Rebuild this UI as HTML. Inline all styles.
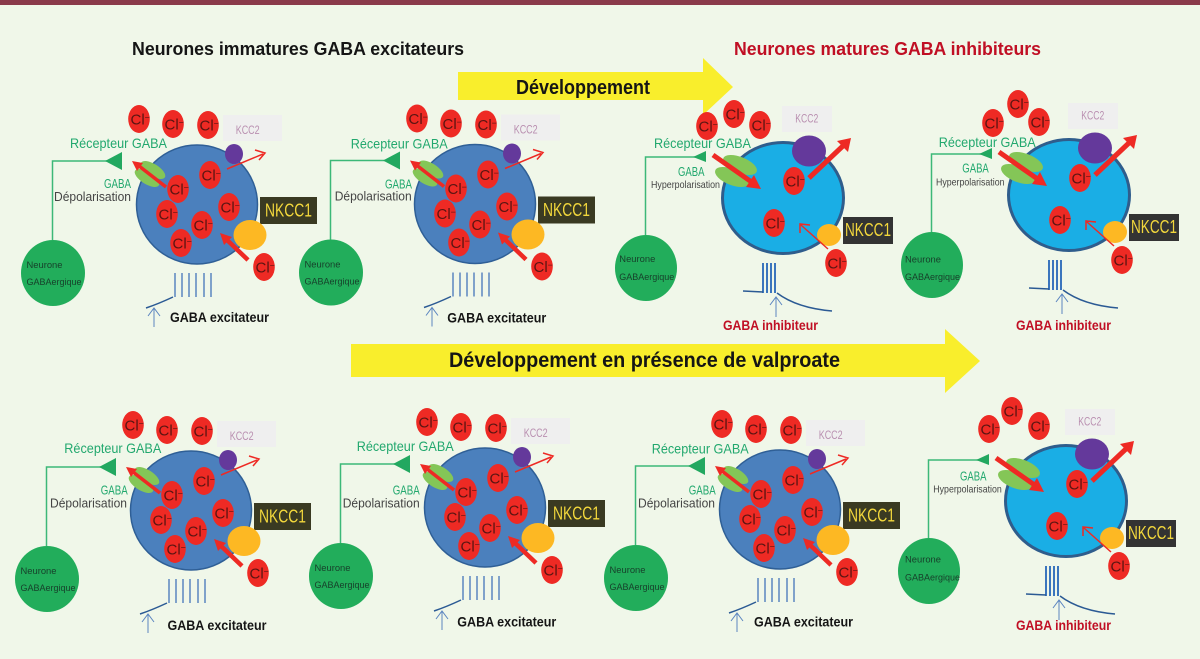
<!DOCTYPE html>
<html><head><meta charset="utf-8"><style>
html,body{margin:0;padding:0;background:#f0f7e9}
svg{display:block}
text{font-family:"Liberation Sans",sans-serif}
.cl{font-size:15px;fill:#5a1512}
.m{font-size:9px;fill:#5a1512}
.r{font-size:14px;fill:#22a86e}
.g{font-size:12.500px;fill:#22a86e}
.d{font-size:12.500px;fill:#444}
.h{font-size:10.500px;fill:#444}
.n{font-size:9.500px;fill:#173f2a}
.k{font-size:12px;fill:#b98fb0}
.y{font-size:18px;fill:#f2d73c}
.b{font-size:14px;font-weight:bold;fill:#151515}
.i{font-size:14px;font-weight:bold;fill:#c00f24}
</style></head><body>
<svg xmlns="http://www.w3.org/2000/svg" width="1200" height="659" viewBox="0 0 1200 659">
<defs>
<g id="c"><ellipse cx="0" cy="0" rx="10.800" ry="14" fill="#ee2a24"/><text class="cl" x="-8.500" y="5.500">Cl<tspan class="m" dy="-4">−</tspan></text></g>
<g id="E">
<ellipse cx="197" cy="204.500" rx="60.500" ry="59.500" fill="#4b80bd" stroke="#2f5f96" stroke-width="1.500"/>
<rect x="223" y="115" width="59" height="26" fill="#efefef"/>
<text class="k" x="235.700" y="134" textLength="24" lengthAdjust="spacingAndGlyphs">KCC2</text>
<use href="#c" x="139" y="119"/><use href="#c" x="173" y="124"/><use href="#c" x="208" y="125"/>
<ellipse cx="234" cy="154" rx="9" ry="10" fill="#64399b"/>
<path d="M227 169L263 154M255 150L265 153L259 160" fill="none" stroke="#ee2a24" stroke-width="1.500"/>
<path d="M122 161H52.500V240" fill="none" stroke="#3cb878" stroke-width="1.500"/>
<polygon points="105,161 122,152 122,170" fill="#22a860"/>
<ellipse cx="53" cy="273" rx="32" ry="33" fill="#22ad5b"/>
<ellipse cx="153" cy="170" rx="14" ry="6" fill="#84c657" transform="rotate(32 153 170)"/>
<ellipse cx="147" cy="178" rx="14" ry="6" fill="#84c657" transform="rotate(32 147 178)"/>
<path d="M166 187L139 166" stroke="#ee2a24" stroke-width="3.500"/>
<polygon points="132,161 143,163 137,171" fill="#ee2a24"/>
<use href="#c" x="178" y="189"/><use href="#c" x="210" y="175"/><use href="#c" x="167" y="214"/><use href="#c" x="202" y="225"/><use href="#c" x="229" y="207"/><use href="#c" x="181" y="243"/><use href="#c" x="264" y="267"/>
<rect x="260" y="197" width="57" height="27" fill="#3a3a22"/>
<text class="y" x="265" y="216.500" textLength="47" lengthAdjust="spacingAndGlyphs">NKCC1</text>
<ellipse cx="250" cy="235" rx="16.500" ry="15" fill="#fdb823"/>
<path d="M248 260L226 239" stroke="#ee2a24" stroke-width="4.500"/>
<polygon points="220,233 232,237 224,245" fill="#ee2a24"/>
<path d="M175 273V297M182 273V297M189 273V297M196 273V297M204 273V297M211 273V297" stroke="#5b85c0" stroke-width="1.500"/>
<path d="M146 308Q158 304 173 297" fill="none" stroke="#2b5a94" stroke-width="1.500"/>
<path d="M154 327V308M148 316L154 308L160 316" fill="none" stroke="#5b85c0" stroke-width="1"/>
</g>
<g id="M">
<ellipse cx="783" cy="198" rx="60.500" ry="55.500" fill="#1aaee5" stroke="#2f5d8c" stroke-width="3"/>
<rect x="782" y="106" width="50" height="26" fill="#efefef"/>
<text class="k" x="795.300" y="122.500" textLength="23" lengthAdjust="spacingAndGlyphs">KCC2</text>
<ellipse cx="809" cy="151" rx="17" ry="15.500" fill="#64399b"/>
<path d="M809 178L845 144" stroke="#ee2a24" stroke-width="5"/>
<polygon points="851,138 848,152 837,141" fill="#ee2a24"/>
<path d="M706 157H645.500V235" fill="none" stroke="#3cb878" stroke-width="1.500"/>
<polygon points="693,157 706,151 706,162" fill="#22a860"/>
<ellipse cx="646" cy="268" rx="31" ry="33" fill="#22ad5b"/>
<ellipse cx="740" cy="165" rx="18" ry="8" fill="#84c657" transform="rotate(22 740 165)"/>
<ellipse cx="732" cy="177" rx="18" ry="8" fill="#84c657" transform="rotate(22 732 177)"/>
<path d="M713 155L753 183" stroke="#ee2a24" stroke-width="5"/>
<polygon points="761,189 746,187 754,175" fill="#ee2a24"/>
<use href="#c" x="794" y="181"/><use href="#c" x="774" y="223"/><use href="#c" x="836" y="263"/>
<ellipse cx="829" cy="235" rx="12" ry="11" fill="#fdb823"/>
<path d="M828 249L801 225M800 233L800 224L810 225" fill="none" stroke="#ee2a24" stroke-width="1.500"/>
<rect x="843" y="217" width="50" height="27" fill="#333"/>
<text class="y" x="845" y="236" textLength="46" lengthAdjust="spacingAndGlyphs">NKCC1</text>
<path d="M763 263V293M767 263V293M771 263V293M775 263V293" stroke="#3b75bd" stroke-width="2"/>
<path d="M743 291L763 292M777 293Q797 308 832 311" fill="none" stroke="#2b5a94" stroke-width="1.500"/>
<path d="M776 317V297M770 305L776 297L782 305" fill="none" stroke="#5b85c0" stroke-width="1"/>
</g>
</defs>
<rect width="1200" height="659" fill="#f0f7e9"/>
<rect width="1200" height="5" fill="#8a3a4a"/>
<text x="132" y="55" font-size="18" font-weight="bold" fill="#151515" textLength="332" lengthAdjust="spacingAndGlyphs">Neurones immatures GABA excitateurs</text>
<text x="734" y="55" font-size="18" font-weight="bold" fill="#c00f24" textLength="307" lengthAdjust="spacingAndGlyphs">Neurones matures GABA inhibiteurs</text>
<polygon points="458,72 703,72 703,58 733,87 703,115 703,100 458,100" fill="#f9ee2c"/>
<text x="516" y="94" font-size="20" font-weight="bold" fill="#151515" textLength="134" lengthAdjust="spacingAndGlyphs">Développement</text>
<polygon points="351,344 945,344 945,329 980,361 945,393 945,377 351,377" fill="#f9ee2c"/>
<text x="449" y="367" font-size="21" font-weight="bold" fill="#151515" textLength="391" lengthAdjust="spacingAndGlyphs">Développement en présence de valproate</text>

<g><use href="#E"/><text class="r" x="70" y="148" textLength="97" lengthAdjust="spacingAndGlyphs">Récepteur GABA</text><text class="g" x="104" y="188" textLength="27" lengthAdjust="spacingAndGlyphs">GABA</text><text class="d" x="54" y="201" textLength="77" lengthAdjust="spacingAndGlyphs">Dépolarisation</text><text class="n" x="26.500" y="268" textLength="36" lengthAdjust="spacingAndGlyphs">Neurone</text><text class="n" x="26.500" y="285" textLength="55" lengthAdjust="spacingAndGlyphs">GABAergique</text><text class="b" x="170" y="322" textLength="99" lengthAdjust="spacingAndGlyphs">GABA excitateur</text></g>
<g transform="translate(278 -0.500)"><use href="#E"/><text class="r" x="72.700" y="148.800" textLength="97" lengthAdjust="spacingAndGlyphs">Récepteur GABA</text><text class="g" x="107" y="188.800" textLength="27" lengthAdjust="spacingAndGlyphs">GABA</text><text class="d" x="56.700" y="201" textLength="77" lengthAdjust="spacingAndGlyphs">Dépolarisation</text><text class="n" x="26.500" y="268" textLength="36" lengthAdjust="spacingAndGlyphs">Neurone</text><text class="n" x="26.500" y="285" textLength="55" lengthAdjust="spacingAndGlyphs">GABAergique</text><text class="b" x="169.300" y="322.800" textLength="99" lengthAdjust="spacingAndGlyphs">GABA excitateur</text></g>
<g transform="translate(-6 306)"><use href="#E"/><text class="r" x="70.300" y="147" textLength="97" lengthAdjust="spacingAndGlyphs">Récepteur GABA</text><text class="g" x="106.700" y="188.300" textLength="27" lengthAdjust="spacingAndGlyphs">GABA</text><text class="d" x="56" y="201.300" textLength="77" lengthAdjust="spacingAndGlyphs">Dépolarisation</text><text class="n" x="26.500" y="268" textLength="36" lengthAdjust="spacingAndGlyphs">Neurone</text><text class="n" x="26.500" y="285" textLength="55" lengthAdjust="spacingAndGlyphs">GABAergique</text><text class="b" x="173.500" y="324" textLength="99" lengthAdjust="spacingAndGlyphs">GABA excitateur</text></g>
<g transform="translate(288 303)"><use href="#E"/><text class="r" x="68.700" y="148" textLength="97" lengthAdjust="spacingAndGlyphs">Récepteur GABA</text><text class="g" x="104.700" y="191.300" textLength="27" lengthAdjust="spacingAndGlyphs">GABA</text><text class="d" x="54.700" y="204.300" textLength="77" lengthAdjust="spacingAndGlyphs">Dépolarisation</text><text class="n" x="26.500" y="268" textLength="36" lengthAdjust="spacingAndGlyphs">Neurone</text><text class="n" x="26.500" y="285" textLength="55" lengthAdjust="spacingAndGlyphs">GABAergique</text><text class="b" x="169.300" y="323.700" textLength="99" lengthAdjust="spacingAndGlyphs">GABA excitateur</text></g>
<g transform="translate(583 305)"><use href="#E"/><text class="r" x="68.700" y="148.300" textLength="97" lengthAdjust="spacingAndGlyphs">Récepteur GABA</text><text class="g" x="105.700" y="189.300" textLength="27" lengthAdjust="spacingAndGlyphs">GABA</text><text class="d" x="55" y="202.300" textLength="77" lengthAdjust="spacingAndGlyphs">Dépolarisation</text><text class="n" x="26.500" y="268" textLength="36" lengthAdjust="spacingAndGlyphs">Neurone</text><text class="n" x="26.500" y="285" textLength="55" lengthAdjust="spacingAndGlyphs">GABAergique</text><text class="b" x="171" y="321.700" textLength="99" lengthAdjust="spacingAndGlyphs">GABA excitateur</text></g>

<g><use href="#M"/><use href="#c" x="707" y="126"/><use href="#c" x="734" y="114"/><use href="#c" x="760" y="125"/><text class="r" x="654" y="148" textLength="97" lengthAdjust="spacingAndGlyphs">Récepteur GABA</text><text class="g" x="678" y="176" textLength="26.500" lengthAdjust="spacingAndGlyphs">GABA</text><text class="h" x="651" y="188" textLength="69" lengthAdjust="spacingAndGlyphs">Hyperpolarisation</text><text class="n" x="619.300" y="262" textLength="36" lengthAdjust="spacingAndGlyphs">Neurone</text><text class="n" x="619.300" y="280" textLength="55" lengthAdjust="spacingAndGlyphs">GABAergique</text><text class="i" x="723" y="330" textLength="95" lengthAdjust="spacingAndGlyphs">GABA inhibiteur</text></g>
<g transform="translate(286 -3)"><use href="#M"/><use href="#c" x="707" y="126"/><use href="#c" x="732" y="107"/><use href="#c" x="753" y="125"/><text class="r" x="652.700" y="150" textLength="97" lengthAdjust="spacingAndGlyphs">Récepteur GABA</text><text class="g" x="676.300" y="175.700" textLength="26.500" lengthAdjust="spacingAndGlyphs">GABA</text><text class="h" x="650" y="188.700" textLength="68.500" lengthAdjust="spacingAndGlyphs">Hyperpolarisation</text><text class="n" x="619" y="265.300" textLength="36" lengthAdjust="spacingAndGlyphs">Neurone</text><text class="n" x="619" y="283" textLength="55" lengthAdjust="spacingAndGlyphs">GABAergique</text><text class="i" x="730" y="333" textLength="95" lengthAdjust="spacingAndGlyphs">GABA inhibiteur</text></g>
<g transform="translate(283 303)"><use href="#M"/><use href="#c" x="706" y="126"/><use href="#c" x="729" y="108"/><use href="#c" x="756" y="123"/><text class="g" x="677" y="177.700" textLength="26.500" lengthAdjust="spacingAndGlyphs">GABA</text><text class="h" x="650.300" y="189.300" textLength="68.500" lengthAdjust="spacingAndGlyphs">Hyperpolarisation</text><text class="n" x="622" y="259.700" textLength="36" lengthAdjust="spacingAndGlyphs">Neurone</text><text class="n" x="622" y="277.700" textLength="55" lengthAdjust="spacingAndGlyphs">GABAergique</text><text class="i" x="733" y="327" textLength="95" lengthAdjust="spacingAndGlyphs">GABA inhibiteur</text></g>
</svg>
</body></html>
